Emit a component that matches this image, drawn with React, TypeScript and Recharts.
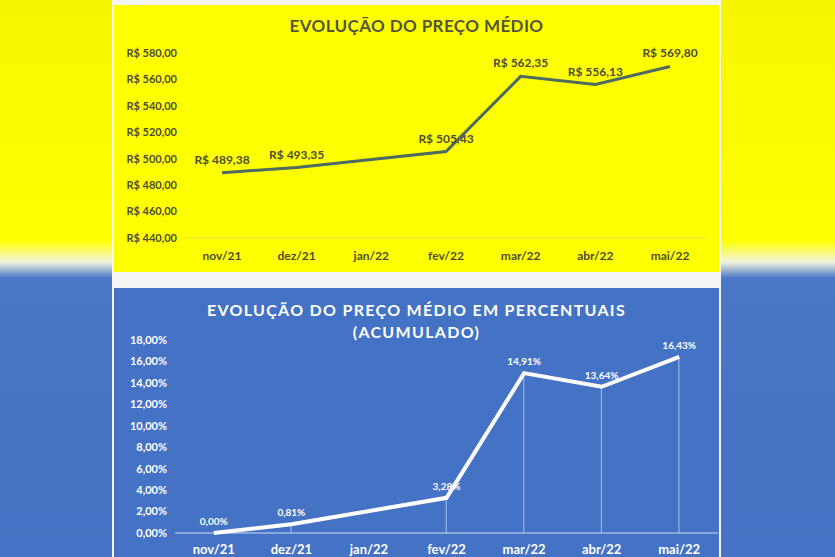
import React from 'react';
import { LineChart, ComposedChart, Line, Bar, XAxis, YAxis, LabelList } from 'recharts';

const months = ['nov/21', 'dez/21', 'jan/22', 'fev/22', 'mar/22', 'abr/22', 'mai/22'];
// jan/22 has no value in the source, the line just joins dez and fev
const avgPrice = [489.38, 493.35, null, 505.43, 562.35, 556.13, 569.8];
const accumPct = [0.0, 0.81, null, 3.28, 14.91, 13.64, 16.43];
const priceTicks = [440, 460, 480, 500, 520, 540, 560, 580];
const pctTicks = [0, 2, 4, 6, 8, 10, 12, 14, 16, 18];

const priceData = months.map((m, i) => ({ month: m, price: avgPrice[i] }));
const pctData = months.map((m, i) => ({ month: m, pct: accumPct[i], drop: accumPct[i] }));

const br = (v: number) => v.toFixed(2).replace('.', ',');
const font = 'Lato, "Open Sans", sans-serif';

const App = () => {
    return (
        <div
            style={{
                position: 'absolute',
                left: 0,
                top: 0,
                width: 835,
                height: 557,
                overflow: 'hidden',
                fontFamily: font,
                background: 'linear-gradient(to bottom, #f6f600 0px, #ffff00 240px, #f2f4dc 262px, #4a77c8 278px, #4472c4 100%)',
            }}
        >
            <div style={{ position: 'absolute', left: 112, top: 0, width: 609, height: 557, background: '#f4f4f4' }} />

            {/* top chart */}
            <div style={{ position: 'absolute', left: 114, top: 5, width: 605, height: 267, background: '#ffff00' }}>
                <div
                    style={{
                        position: 'absolute',
                        top: 10,
                        left: 0,
                        width: 605,
                        textAlign: 'center',
                        fontSize: 17,
                        fontWeight: 700,
                        color: '#55553a',
                        letterSpacing: 0.4,
                    }}
                >
                    EVOLUÇÃO DO PREÇO MÉDIO
                </div>
                <LineChart width={605} height={267} data={priceData} margin={{ top: 48, right: 12, left: 0, bottom: 4 }}>
                    <XAxis
                        dataKey="month"
                        padding={{ left: 37, right: 37 }}
                        axisLine={{ stroke: '#e2e24a' }}
                        tickLine={false}
                        tickMargin={7}
                        height={30}
                        tick={{ fill: '#4d4d38', fontSize: 12, fontWeight: 700 }}
                    />
                    <YAxis
                        width={71}
                        domain={[440, 580]}
                        ticks={priceTicks}
                        axisLine={false}
                        tickLine={false}
                        tickFormatter={(v: number) => 'R$ ' + br(v)}
                        tick={{ fill: '#4d4d38', fontSize: 11, fontWeight: 700 }}
                    />
                    <Line
                        type="linear"
                        dataKey="price"
                        stroke="#4e6b62"
                        strokeWidth={3}
                        dot={false}
                        connectNulls
                        isAnimationActive={false}
                    >
                        <LabelList
                            dataKey="price"
                            position="top"
                            offset={9}
                            formatter={(v: any) => (v == null ? '' : 'R$ ' + br(Number(v)))}
                            style={{ fill: '#4d4d38', fontSize: 12, fontWeight: 700 }}
                        />
                    </Line>
                </LineChart>
            </div>

            {/* bottom chart */}
            <div style={{ position: 'absolute', left: 114, top: 288, width: 605, height: 269, background: '#4472c4' }}>
                <div
                    style={{
                        position: 'absolute',
                        top: 11,
                        left: 0,
                        width: 605,
                        textAlign: 'center',
                        fontSize: 16,
                        lineHeight: '22px',
                        fontWeight: 700,
                        color: '#ffffff',
                        letterSpacing: 1.3,
                    }}
                >
                    EVOLUÇÃO DO PREÇO MÉDIO EM PERCENTUAIS
                    <br />
                    (ACUMULADO)
                </div>
                <ComposedChart width={605} height={269} data={pctData} margin={{ top: 52, right: 1, left: 0, bottom: -6 }}>
                    <XAxis
                        dataKey="month"
                        axisLine={{ stroke: 'rgba(255,255,255,0.75)' }}
                        tickLine={false}
                        tickMargin={6}
                        height={30}
                        tick={{ fill: '#ffffff', fontSize: 13, fontWeight: 700 }}
                    />
                    <YAxis
                        width={61}
                        domain={[0, 18]}
                        ticks={pctTicks}
                        axisLine={false}
                        tickLine={false}
                        tickMargin={2}
                        tickFormatter={(v: number) => br(v) + '%'}
                        tick={{ fill: '#ffffff', fontSize: 11, fontWeight: 700 }}
                    />
                    <Bar dataKey="drop" barSize={1} fill="rgba(255,255,255,0.55)" isAnimationActive={false} />
                    <Line
                        type="linear"
                        dataKey="pct"
                        stroke="#ffffff"
                        strokeWidth={4}
                        dot={false}
                        connectNulls
                        isAnimationActive={false}
                    >
                        <LabelList
                            dataKey="pct"
                            position="top"
                            offset={8}
                            formatter={(v: any) => (v == null ? '' : br(Number(v)) + '%')}
                            style={{ fill: '#ffffff', fontSize: 10, fontWeight: 700 }}
                        />
                    </Line>
                </ComposedChart>
            </div>
        </div>
    );
};

export default App;
